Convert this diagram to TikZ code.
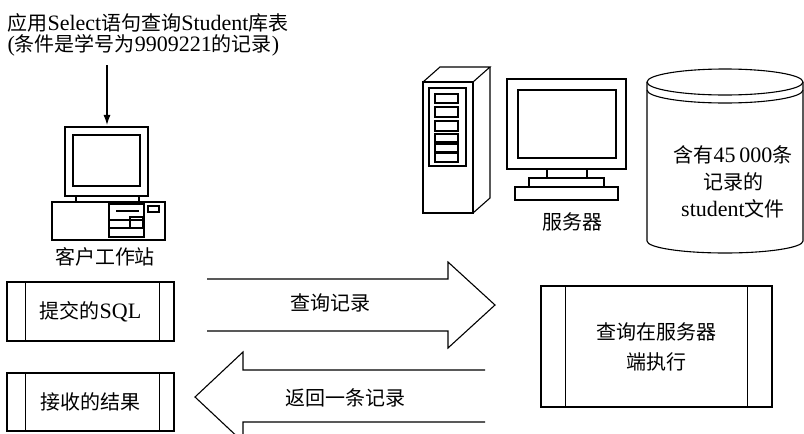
\documentclass[tikz,border=0pt]{standalone}
\usepackage{fontspec}
\setmainfont[Scale=1.1]{Liberation Serif}
\newfontfamily\cjk{Noto Sans CJK SC}
\usetikzlibrary{arrows.meta}
\newcommand\hz[1]{{\cjk #1}}

\begin{document}
\begin{tikzpicture}[x=1pt,y=-1pt,line width=1.1pt,
  lbl/.style={inner sep=0pt,font=\fontsize{20}{27}\selectfont},
  procbox/.style={draw,inner sep=0pt,font=\fontsize{20}{30}\selectfont,align=center},
  bigarrow/.style={line width=1.1pt,line join=miter},
]
\useasboundingbox (0,0) rectangle (804,434);
\clip (0,0) rectangle (804,434);

% query text above the client
\node[lbl,anchor=west] (titleA) at (7,23) {\hz{应用}Select\hz{语句查询}Student\hz{库表}};
\node[lbl,anchor=west] (titleB) at (7,45) {(\hz{条件是学号为}9909221\hz{的记录})};

% client workstation
\node[draw,minimum width=83pt,minimum height=69pt,inner sep=0pt] (pcmon) at (106.5,161.5) {};
\draw (73,135) rectangle (140,186);
\draw (76,196) -- (76,202) (139,196) -- (139,202);
\node[draw,minimum width=113pt,minimum height=38pt,inner sep=0pt] (pcbase) at (108.5,221) {};
\draw (109,204) rectangle (144,237);
\draw (116,211) -- (139,211);
\draw (109,220) -- (144,220) (109,228) -- (144,228);
\draw (130,217) rectangle (143,228);
\draw (148,206) rectangle (159,212);
\node[lbl] (pclabel) at (105,257) {\hz{客户工作站}};

\coordinate (qstart) at (107,65);
\draw[-{Latex[length=10pt,width=7pt]},shorten >=1.5pt] (qstart) -- (qstart |- pcmon.north);

% server tower
\draw (423,82) rectangle (473,213);
\draw (423,82) -- (440,67) -- (490,67) -- (473,82);
\draw (490,67) -- (490,198) -- (473,213);
\draw (429,88) rectangle (466,166);
\foreach \a/\b in {94/103,107/117,121/131,134/142,144/152,153/162}
  \draw (435,\a) rectangle (458,\b);

% server monitor
\draw (507,79) rectangle (626,169);
\draw (518,90) rectangle (616,158);
\draw (547,169) -- (547,178) (587,169) -- (587,178);
\draw (529,178) rectangle (604,187);
\draw (515,187) rectangle (618,200);
\node[lbl] (srvlabel) at (572,222) {\hz{服务器}};

% data file cylinder
\draw (725,82) ellipse [x radius=78,y radius=13];
\draw (647,90) arc [start angle=180,end angle=0,x radius=78,y radius=13];
\draw (647,82) -- (647,241) arc [start angle=180,end angle=0,x radius=78,y radius=12] -- (803,82);
\node[lbl,align=center] (dbtext) at (733,182) {\hz{含有}45\,000\hz{条}\\\hz{记录的}\\student\hz{文件}};

% process boxes
\node[procbox,minimum width=167pt,minimum height=59pt] (sqlbox) at (90.5,311.5) {\hz{提交的}SQL};
\node[procbox,minimum width=167pt,minimum height=58pt] (resbox) at (90.5,402) {\hz{接收的结果}};
\node[procbox,minimum width=231pt,minimum height=121pt] (execbox) at (656.5,346.5) {\hz{查询在服务器}\\\hz{端执行}};
\foreach \b/\l/\r in {sqlbox/19/15,resbox/19/15,execbox/25/25} {
  \draw ([xshift=\l pt]\b.north west) -- ([xshift=\l pt]\b.south west);
  \draw ([xshift=-\r pt]\b.north east) -- ([xshift=-\r pt]\b.south east);
}

% request and reply arrows
\draw[bigarrow] (207,279) -- (448,279) -- (448,262) -- (495,305) -- (448,348) -- (448,331) -- (207,331);
\node[lbl] (qlabel) at (330,303) {\hz{查询记录}};
\draw[bigarrow] (485,370) -- (243,370) -- (243,352) -- (195,397) -- (243,442) -- (243,422) -- (485,422);
\node[lbl] (rlabel) at (345,398) {\hz{返回一条记录}};
\end{tikzpicture}
\end{document}
